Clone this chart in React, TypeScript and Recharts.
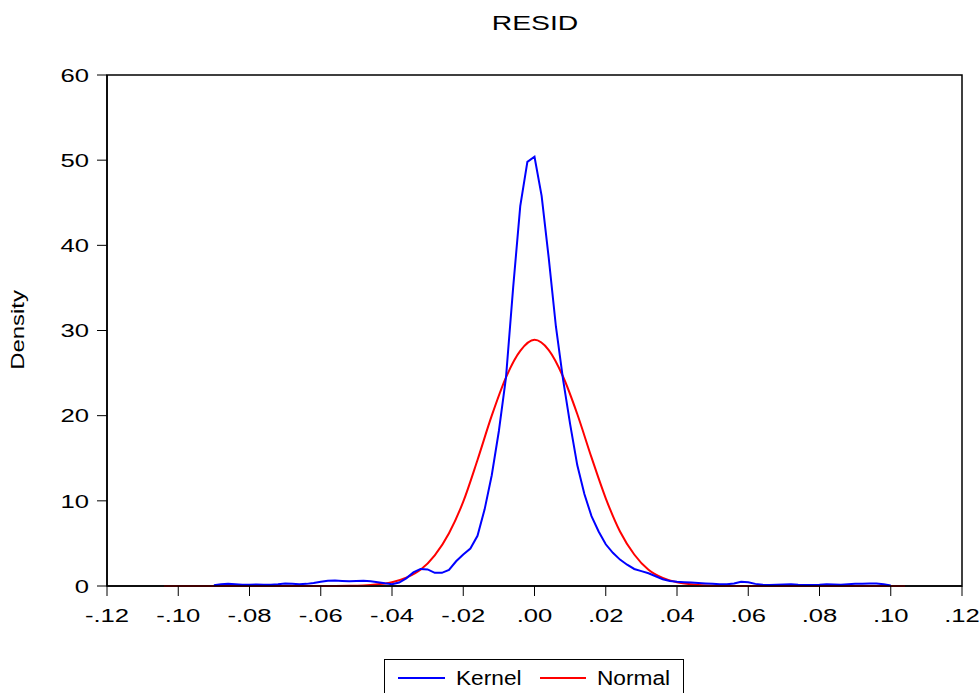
import { LineChart, Line, XAxis, YAxis, ReferenceArea } from "recharts";

const FONT = '"Liberation Sans", Arial, sans-serif';

// kernel density estimate (x, density)
const kernelX = [
  -0.09, -0.088, -0.086, -0.084, -0.082, -0.08, -0.078, -0.076, -0.074, -0.072,
  -0.07, -0.068, -0.066, -0.064, -0.062, -0.06, -0.058, -0.056, -0.054, -0.052,
  -0.05, -0.048, -0.046, -0.044, -0.042, -0.04, -0.038, -0.036, -0.034, -0.032,
  -0.03, -0.028, -0.026, -0.024, -0.022, -0.02, -0.018, -0.016, -0.014, -0.012,
  -0.01, -0.008, -0.006, -0.004, -0.002, 0, 0.002, 0.004, 0.006, 0.008,
  0.01, 0.012, 0.014, 0.016, 0.018, 0.02, 0.022, 0.024, 0.026, 0.028,
  0.03, 0.032, 0.034, 0.036, 0.038, 0.04, 0.042, 0.044, 0.046, 0.048,
  0.05, 0.052, 0.054, 0.056, 0.058, 0.06, 0.062, 0.064, 0.066, 0.068,
  0.07, 0.072, 0.074, 0.076, 0.078, 0.08, 0.082, 0.084, 0.086, 0.088,
  0.09, 0.092, 0.094, 0.096, 0.098, 0.1,
];
const kernelY = [
  0.1, 0.2, 0.25, 0.2, 0.15, 0.15, 0.18, 0.15, 0.15, 0.2,
  0.28, 0.25, 0.2, 0.25, 0.35, 0.5, 0.62, 0.65, 0.6, 0.55,
  0.58, 0.62, 0.55, 0.45, 0.32, 0.22, 0.4, 0.9, 1.6, 2.0,
  1.95, 1.55, 1.55, 1.9, 2.9, 3.7, 4.4, 5.9, 9.0, 13.0,
  18.2, 24.5, 35.0, 44.6, 49.8, 50.4, 45.8, 38.5, 30.5, 24.3,
  19.0, 14.2, 10.8, 8.2, 6.4, 4.9, 3.9, 3.1, 2.5, 2.0,
  1.75, 1.5, 1.15, 0.8, 0.6, 0.5, 0.45, 0.4, 0.35, 0.3,
  0.25, 0.2, 0.2, 0.3, 0.5, 0.45, 0.25, 0.15, 0.12, 0.15,
  0.18, 0.2, 0.15, 0.12, 0.12, 0.15, 0.2, 0.18, 0.15, 0.2,
  0.25, 0.25, 0.3, 0.3, 0.2, 0.05,
];

// fitted normal density
const normalX = [
  -0.104, -0.09, -0.08, -0.07, -0.06, -0.056, -0.052, -0.048, -0.044, -0.04,
  -0.036, -0.032, -0.028, -0.024, -0.02, -0.016, -0.012, -0.008, -0.004, 0,
  0.004, 0.008, 0.012, 0.016, 0.02, 0.024, 0.028, 0.032, 0.036, 0.04,
  0.044, 0.048, 0.052, 0.056, 0.06, 0.07, 0.08, 0.09, 0.104,
];
const normalY = [
  0, 0, 0, 0, 0.01, 0.01, 0.02, 0.06, 0.2, 0.45,
  0.99, 1.9, 3.6, 6.2, 9.9, 14.8, 20.0, 24.5, 27.6, 28.9,
  27.7, 24.6, 20.2, 15.1, 10.3, 6.4, 3.7, 1.9, 0.95, 0.45,
  0.2, 0.07, 0.03, 0.01, 0.01, 0, 0, 0, 0,
];

const xTicks = [-0.12, -0.1, -0.08, -0.06, -0.04, -0.02, 0, 0.02, 0.04, 0.06, 0.08, 0.1, 0.12];
const yTicks = [0, 10, 20, 30, 40, 50, 60];

const kernelData = kernelX.map((x, i) => ({ x, kernel: kernelY[i] }));
const normalData = normalX.map((x, i) => ({ x, normal: normalY[i] }));

const STRETCH = 1.35;

const fmtX = (v: number) => {
  const s = Math.abs(v).toFixed(2).replace(/^0/, "");
  return (v < -1e-9 ? "-" : "") + s;
};

function XTick({ x, y, payload }: any) {
  return (
    <text
      transform={`translate(${x},${y}) scale(${STRETCH},1)`}
      textAnchor="middle"
      dy="0.716em"
      fontSize={19}
      fill="#000"
      fontFamily={FONT}
    >
      {fmtX(payload.value)}
    </text>
  );
}

function YTick({ x, y, payload }: any) {
  return (
    <text
      transform={`translate(${x},${y}) scale(${STRETCH},1)`}
      textAnchor="end"
      dy="0.358em"
      fontSize={19}
      fill="#000"
      fontFamily={FONT}
    >
      {payload.value}
    </text>
  );
}

export default function App() {
  return (
    <div
      style={{
        position: "absolute",
        left: 0,
        top: 0,
        width: 979,
        height: 693,
        background: "#fff",
        fontFamily: FONT,
      }}
    >
      <LineChart
        width={979}
        height={693}
        margin={{ top: 75, right: 17, left: 0, bottom: 0 }}
        style={{ fontFamily: FONT }}
      >
        <XAxis
          type="number"
          dataKey="x"
          domain={[-0.12, 0.12]}
          ticks={xTicks}
          allowDuplicatedCategory={false}
          height={107}
          tickSize={10}
          tickMargin={12}
          tick={<XTick />}
          axisLine={{ stroke: "#000", strokeWidth: 1.5 }}
          tickLine={{ stroke: "#000" }}
        />
        <YAxis
          type="number"
          domain={[0, 60]}
          ticks={yTicks}
          width={107}
          tickSize={10}
          tickMargin={8}
          tick={<YTick />}
          axisLine={{ stroke: "#000", strokeWidth: 1.5 }}
          tickLine={{ stroke: "#000" }}
          label={() => (
            <text
              transform="translate(24,330) rotate(-90) scale(1.33,1)"
              textAnchor="middle"
              fontSize={18}
              fill="#000"
              fontFamily={FONT}
            >
              Density
            </text>
          )}
        />
        <ReferenceArea
          x1={-0.12}
          x2={0.12}
          y1={0}
          y2={60}
          fill="none"
          stroke="#000"
          strokeWidth={1.5}
          fillOpacity={0}
        />
        <Line
          data={normalData}
          dataKey="normal"
          type="monotone"
          stroke="#ff0000"
          strokeWidth={2}
          dot={false}
          isAnimationActive={false}
        />
        <Line
          data={kernelData}
          dataKey="kernel"
          type="linear"
          stroke="#0000ff"
          strokeWidth={2}
          dot={false}
          isAnimationActive={false}
        />
      </LineChart>

      {/* title and legend */}
      <svg
        width={979}
        height={693}
        style={{ position: "absolute", left: 0, top: 0, pointerEvents: "none" }}
      >
        <text
          transform={`translate(535,30) scale(${STRETCH},1)`}
          textAnchor="middle"
          fontSize={21}
          fill="#000"
          fontFamily={FONT}
        >
          RESID
        </text>
        <rect x={384.5} y={659.5} width={299} height={40} fill="none" stroke="#000" strokeWidth={1} />
        <line x1={398} x2={445} y1={678} y2={678} stroke="#0000ff" strokeWidth={2} />
        <text transform="translate(456,685) scale(1.08,1)" fontSize={21} fill="#000" fontFamily={FONT}>
          Kernel
        </text>
        <line x1={540} x2={586} y1={678} y2={678} stroke="#ff0000" strokeWidth={2} />
        <text transform="translate(597,685) scale(1.08,1)" fontSize={21} fill="#000" fontFamily={FONT}>
          Normal
        </text>
      </svg>
    </div>
  );
}
